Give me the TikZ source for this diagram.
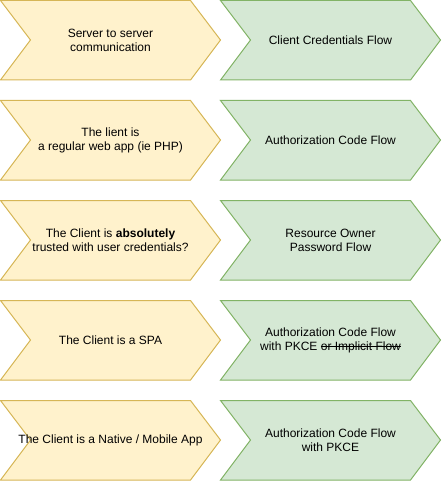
\documentclass[tikz,border=0pt]{standalone}
\usepackage{fontspec}
\setmainfont{Liberation Sans}
\definecolor{ylwfill}{HTML}{FFF2CC}
\definecolor{ylwline}{HTML}{D6B656}
\definecolor{grnfill}{HTML}{D5E8D4}
\definecolor{grnline}{HTML}{82B366}
% struck-through text: the word box with a rule drawn across its middle
\newsavebox\strikebox
\newcommand\struckout[1]{\sbox\strikebox{#1}\rlap{\usebox\strikebox}\rule[0.3em]{\wd\strikebox}{0.08em}}
\begin{document}
\begin{tikzpicture}[x=1pt,y=-1pt,
  question/.style={fill=ylwfill,draw=ylwline,line width=1pt,line join=miter},
  answer/.style={fill=grnfill,draw=grnline,line width=1pt,line join=miter},
  label/.style={align=center,font=\fontsize{12}{14}\selectfont,text=black,inner sep=0pt}]
\useasboundingbox (0,0) rectangle (441,481);
% chevron outlines, one row every 100 units
\foreach \r in {0,1,2,3,4}{
  \pgfmathsetmacro{\top}{0.5+100*\r}
  \pgfmathsetmacro{\mid}{40+100*\r}
  \pgfmathsetmacro{\bot}{80+100*\r}
  \draw[question] (0.5,\top) -- (190.5,\top) -- (220.5,\mid) -- (190.5,\bot) -- (0.5,\bot) -- (30.5,\mid) -- cycle;
  \draw[answer] (220.5,\top) -- (410.5,\top) -- (440.5,\mid) -- (410.5,\bot) -- (220.5,\bot) -- (250.5,\mid) -- cycle;
}
% left column: situation
\node[label] (q1) at (110.5,40.5) {Server to server\\communication};
\node[label] (q2) at (110.5,140.5) {The lient is\\a regular web app (ie PHP)};
\node[label] (q3) at (110.5,240.5) {The Client is \textbf{absolutely}\\trusted with user credentials?};
\node[label] (q4) at (110.5,340.5) {The Client is a SPA};
\node[label] (q5) at (110.5,440.5) {The Client is a Native / Mobile App};
% right column: recommended flow
\node[label] (a1) at (330.5,40.5) {Client Credentials Flow};
\node[label] (a2) at (330.5,140.5) {Authorization Code Flow};
\node[label] (a3) at (330.5,240.5) {Resource Owner\\Password Flow};
\node[label] (a4) at (330.5,340.5) {Authorization Code Flow\\with PKCE \struckout{or Implicit Flow}};
\node[label] (a5) at (330.5,440.5) {Authorization Code Flow\\with PKCE};
\end{tikzpicture}
\end{document}
